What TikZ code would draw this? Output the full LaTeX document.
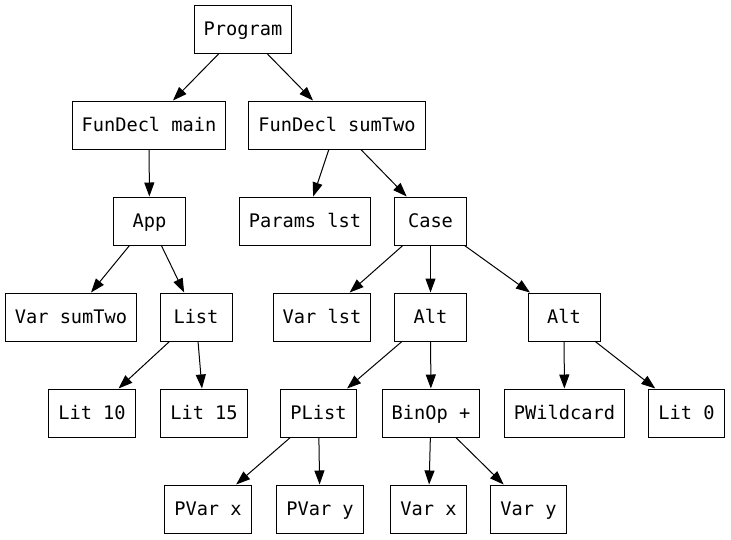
\documentclass[tikz,border=0pt]{standalone}
\usepackage{fontspec}
\usepackage{tikz}
\usetikzlibrary{positioning,arrows.meta}
\newfontfamily\astfont{DejaVu Sans Mono}

\tikzset{
	ast/.style={draw, rectangle, line width=1pt, inner xsep=9.5pt, inner ysep=0pt,
		minimum height=48pt, minimum width=72pt, text height=16pt, text depth=4pt,
		font=\astfont\fontsize{18.67}{22}\selectfont},
	kid/.style={-{Triangle[length=14pt,width=10pt]}, line width=1pt}
}

\begin{document}
\begin{tikzpicture}[x=1pt, y=-1pt, kid]
	\useasboundingbox (0,0) rectangle (731,539);

	\node[ast]	(prog)		at	(243,29)	{Program};
	\node[ast]	(fmain)		at	(149,125)	{FunDecl main};
	\node[ast]	(fsum)		at	(337,125)	{FunDecl sumTwo};
	\node[ast]	(app)		at	(149.5,221)	{App};
	\node[ast]	(params)	at	(305,221)	{Params lst};
	\node[ast]	(case)		at	(430.5,221)	{Case};
	\node[ast]	(varsum)	at	(71,317)	{Var sumTwo};
	\node[ast]	(list)		at	(196,317)	{List};
	\node[ast]	(varlst)	at	(322,317)	{Var lst};
	\node[ast]	(alta)		at	(430.5,317)	{Alt};
	\node[ast]	(altb)		at	(564,317)	{Alt};
	\node[ast]	(lita)		at	(92,413)	{Lit 10};
	\node[ast]	(litb)		at	(204,413)	{Lit 15};
	\node[ast]	(plist)		at	(318.5,413)	{PList};
	\node[ast]	(binop)		at	(431,413)	{BinOp +};
	\node[ast]	(pwild)		at	(564.5,413)	{PWildcard};
	\node[ast]	(litc)		at	(686.5,413)	{Lit 0};
	\node[ast]	(pvarx)		at	(208,509)	{PVar x};
	\node[ast]	(pvary)		at	(320,509)	{PVar y};
	\node[ast]	(varx)		at	(428.5,509)	{Var x};
	\node[ast]	(vary)		at	(528.5,509)	{Var y};

	\path	(prog)	edge	(fmain);
	\path	(prog)	edge	(fsum);
	\path	(fmain)	edge	(app);
	\path	(fsum)	edge	(params);
	\path	(fsum)	edge	(case);
	\path	(app)	edge	(varsum);
	\path	(app)	edge	(list);
	\path	(list)	edge	(lita);
	\path	(list)	edge	(litb);
	\path	(case)	edge	(varlst);
	\path	(case)	edge	(alta);
	\path	(case)	edge	(altb);
	\path	(alta)	edge	(plist);
	\path	(alta)	edge	(binop);
	\path	(altb)	edge	(pwild);
	\path	(altb)	edge	(litc);
	\path	(plist)	edge	(pvarx);
	\path	(plist)	edge	(pvary);
	\path	(binop)	edge	(varx);
	\path	(binop)	edge	(vary);
\end{tikzpicture}
\end{document}
